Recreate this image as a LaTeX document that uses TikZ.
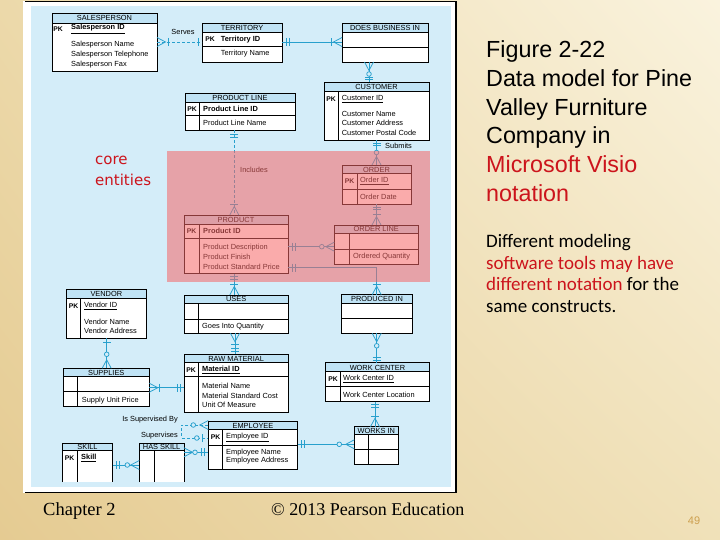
\documentclass[tikz,border=0pt]{standalone}
\usepackage{fontspec}
\setmainfont{Liberation Sans}
\newfontfamily\calib{Carlito}
\newfontfamily\timesf{Liberation Serif}
\newfontfamily\tahf{DejaVu Sans}
\usetikzlibrary{calc,shadings}
\definecolor{bgUL}{RGB}{236,217,170}
\definecolor{bgUR}{RGB}{250,243,222}
\definecolor{bgLL}{RGB}{229,203,146}
\definecolor{bgLR}{RGB}{240,225,185}
\definecolor{skyfill}{RGB}{212,237,249}
\definecolor{bandc}{RGB}{192,227,245}
\definecolor{connc}{RGB}{40,160,205}
\definecolor{ovc}{RGB}{246,102,102}
\definecolor{redt}{RGB}{204,20,28}
\definecolor{pagenum}{RGB}{205,160,80}
\tikzset{
 entbox/.style={rectangle, fill=white, inner sep=0pt, outer sep=0pt},
 entline/.style={draw=black, line width=0.7pt},
 ttl/.style={inner sep=0pt, font=\fontsize{7.4}{8}\selectfont},
 att/.style={inner sep=0pt, anchor=west, font=\fontsize{7.4}{8}\selectfont},
 keyatt/.style={inner sep=0pt, anchor=west, font=\bfseries\fontsize{7.4}{8}\selectfont},
 pkl/.style={inner sep=0pt, font=\bfseries\fontsize{6.8}{8}\selectfont},
 conn/.style={draw=connc, line width=0.75pt},
 dsh/.style={dash pattern=on 3pt off 2pt},
 lbl/.style={inner sep=0pt, font=\fontsize{7.4}{8}\selectfont},
 bigtxt/.style={inner sep=0pt, anchor=base west, font=\fontsize{23.3}{28}\selectfont},
 medtxt/.style={inner sep=0pt, anchor=base west, font=\calib\fontsize{19}{22}\selectfont},
 foot/.style={inner sep=0pt, anchor=base west, font=\timesf\fontsize{18.5}{22}\selectfont}
}
\newcommand{\ent}[7]{%
  \node[entbox, minimum width={(#4-#2)*1pt}, minimum height={(#5-#3)*1pt}] (#1) at ({(#2+#4)/2},{(#3+#5)/2}) {};
  \fill[bandc] (#2,#3) rectangle (#4,#6);
  \draw[entline] (#2,#3) rectangle (#4,#5);
  \draw[entline] (#2,#6) -- (#4,#6);
  \node[ttl] (#1-t) at ({(#2+#4)/2},{(#3+#6)/2+0.3}) {#7};}
\newcommand{\entopen}[7]{%
  \node[entbox, minimum width={(#4-#2)*1pt}, minimum height={(#5-#3)*1pt}] (#1) at ({(#2+#4)/2},{(#3+#5)/2}) {};
  \fill[bandc] (#2,#3) rectangle (#4,#6);
  \draw[entline] (#2,#5) -- (#2,#3) -- (#4,#3) -- (#4,#5);
  \draw[entline] (#2,#6) -- (#4,#6);
  \node[ttl] (#1-t) at ({(#2+#4)/2},{(#3+#6)/2+0.3}) {#7};}
\newcommand{\hl}[3]{\draw[entline] (#1,#3) -- (#2,#3);}
\newcommand{\vl}[3]{\draw[entline] (#1,#2) -- (#1,#3);}
\newcommand{\tipat}[3]{\begin{scope}[shift={(#1)},rotate=#2]#3\end{scope}}
\newcommand{\crw}{\draw[conn] (0,-4.5) -- (8.5,0) -- (0,4.5);}
\newcommand{\tbar}[1]{\draw[conn] (#1,-4) -- (#1,4);}
\newcommand{\crc}[1]{\draw[conn,fill=skyfill] (#1,0) circle (2.3pt);}
\begin{document}
\begin{tikzpicture}[x=1pt,y=-1pt]
\useasboundingbox (0,0) rectangle (720,540);
\shade[upper left=bgUL, upper right=bgUR, lower left=bgLL, lower right=bgLR] (0,0) rectangle (720,540);
% frame
\fill[white] (23,1.5) rectangle (456,492.5);
\draw[black, line width=1.2pt] (25,1.5) -- (456,1.5) -- (456,492.5) -- (25,492.5);
\fill[skyfill] (31,6) rectangle (451,487);

% ===== entities =====
\ent{sales}{52}{13}{157}{71}{23}{SALESPERSON}
\node[pkl] (sales-pk) at (58,29) {PK};
\node[keyatt] (sales-k) at (71,29) {\underline{Salesperson ID}};
\node[att] (sales-a1) at (71,45) {Salesperson Name};
\node[att] (sales-a2) at (71,55) {Salesperson Telephone};
\node[att] (sales-a3) at (71,65) {Salesperson Fax};

\ent{terr}{202}{23}{282}{62}{32}{TERRITORY}
\hl{202}{282}{46.7}
\node[pkl] (terr-pk) at (210,39.3) {PK};
\node[keyatt] (terr-k) at (220.7,39.3) {Territory ID};
\node[att] (terr-a1) at (220.7,54) {Territory Name};

\ent{dbi}{342}{23}{428}{62}{32}{DOES BUSINESS IN}
\hl{342}{428}{47}

\ent{cust}{324}{82}{429}{140}{91}{CUSTOMER}
\vl{338}{91}{140}
\node[pkl] (cust-pk) at (331,99) {PK};
\node[att] (cust-k) at (341.7,99) {\underline{Customer ID}};
\node[att] (cust-a1) at (341.7,113.7) {Customer Name};
\node[att] (cust-a2) at (341.7,123.3) {Customer Address};
\node[att] (cust-a3) at (341.7,132.7) {Customer Postal Code};

\ent{pline}{185}{93}{295}{130}{102}{PRODUCT LINE}
\hl{185}{295}{115}
\vl{199.3}{102}{130}
\node[pkl] (pline-pk) at (192,108.7) {PK};
\node[keyatt] (pline-k) at (203,108.7) {Product Line ID};
\node[att] (pline-a1) at (203,122.7) {Product Line Name};

\ent{ord}{342}{165}{411}{204.3}{173.5}{ORDER}
\hl{342}{411}{189.5}
\vl{357}{173.5}{204.3}
\node[pkl] (ord-pk) at (349.5,181) {PK};
\node[att] (ord-k) at (360,181) {\underline{Order ID}};
\node[att] (ord-a1) at (360,197.3) {Order Date};

\ent{prod}{184}{215}{288}{273.5}{224.5}{PRODUCT}
\hl{184}{288}{238.5}
\vl{199.3}{224.5}{273.5}
\node[pkl] (prod-pk) at (191.5,231) {PK};
\node[keyatt] (prod-k) at (203,231) {Product ID};
\node[att] (prod-a1) at (203,247.3) {Product Description};
\node[att] (prod-a2) at (203,256.7) {Product Finish};
\node[att] (prod-a3) at (203,266.7) {Product Standard Price};

\ent{oline}{334.3}{225}{418.3}{264}{233.3}{ORDER LINE}
\hl{334.3}{418.3}{249.3}
\vl{349.3}{233.3}{264}
\node[att] (oline-a1) at (353,256.7) {Ordered Quantity};

\ent{uses}{184}{295}{288.3}{333.3}{303.3}{USES}
\hl{184}{288.3}{319.3}
\vl{198.3}{303.3}{333.3}
\node[att] (uses-a1) at (202,326.7) {Goes Into Quantity};

\ent{pin}{341.7}{294.7}{412.3}{333.3}{303.3}{PRODUCED IN}
\hl{341.7}{412.3}{318.3}

\ent{vend}{66}{289.3}{146.7}{338.3}{298.3}{VENDOR}
\vl{80.7}{298.3}{338.3}
\node[pkl] (vend-pk) at (73.5,305.7) {PK};
\node[att] (vend-k) at (84,305.7) {\underline{Vendor ID}};
\node[att] (vend-a1) at (84,321.7) {Vendor Name};
\node[att] (vend-a2) at (84,330.7) {Vendor Address};

\ent{supp}{63.3}{368.3}{149.3}{406.7}{376.7}{SUPPLIES}
\hl{63.3}{149.3}{391.7}
\vl{77.7}{376.7}{406.7}
\node[att] (supp-a1) at (81.7,400.7) {Supply Unit Price};

\ent{raw}{184}{354}{288.3}{412.7}{362.7}{RAW MATERIAL}
\hl{184}{288.3}{376.7}
\vl{198}{362.7}{412.7}
\node[pkl] (raw-pk) at (191,370) {PK};
\node[keyatt] (raw-k) at (202,370) {\underline{Material ID}};
\node[att] (raw-a1) at (202,386) {Material Name};
\node[att] (raw-a2) at (202,396) {Material Standard Cost};
\node[att] (raw-a3) at (202,405.3) {Unit Of Measure};

\ent{wc}{325.7}{362.7}{429.3}{401.7}{371.7}{WORK CENTER}
\hl{325.7}{429.3}{386}
\vl{340}{371.7}{401.7}
\node[pkl] (wc-pk) at (333,379) {PK};
\node[att] (wc-k) at (343,379) {\underline{Work Center ID}};
\node[att] (wc-a1) at (343,395) {Work Center Location};

\entopen{skill}{62.3}{443.3}{112.7}{482}{450.5}{SKILL}
\vl{77.3}{450.5}{482}
\node[pkl] (skill-pk) at (69.5,458.3) {PK};
\node[keyatt] (skill-k) at (81,458.3) {\underline{Skill}};

\entopen{hask}{139.3}{443.3}{184}{482}{450.5}{HAS SKILL}
\vl{154.3}{450.5}{482}

\ent{emp}{208.3}{421}{297.7}{469.3}{429.3}{EMPLOYEE}
\hl{208.3}{297.7}{445}
\vl{222.7}{429.3}{469.3}
\node[pkl] (emp-pk) at (215.5,437.3) {PK};
\node[att] (emp-k) at (226,437.3) {\underline{Employee ID}};
\node[att] (emp-a1) at (226,452.3) {Employee Name};
\node[att] (emp-a2) at (226,461) {Employee Address};

\ent{wi}{354.3}{426.7}{398.3}{464}{434}{WORKS IN}
\hl{354.3}{398.3}{449}
\vl{368.3}{434}{464}

% ===== connectors =====
% Serves
\coordinate (c1a) at (sales.east |- 0,42);
\coordinate (c1b) at (terr.west |- 0,42);
\draw[conn,dsh] (c1a) -- (c1b);
\tipat{c1a}{0}{\crw\tbar{11}}
\tipat{c1b}{180}{\tbar{4}}
\node[lbl] (l-serves) at (183,32) {Serves};
% Territory - Does business in
\coordinate (c2a) at (terr.east |- 0,42);
\coordinate (c2b) at (dbi.west |- 0,42);
\draw[conn] (c2a) -- (c2b);
\tipat{c2a}{0}{\tbar{4}\tbar{7}}
\tipat{c2b}{180}{\crw\tbar{11}}
% DBI - Customer
\coordinate (c3a) at (dbi.south -| 369,0);
\coordinate (c3b) at (cust.north -| 369,0);
\draw[conn] (c3a) -- (c3b);
\tipat{c3a}{-90}{\crw\crc{12}}
\tipat{c3b}{90}{\tbar{2.5}\tbar{5}}
% Submits
\coordinate (c4a) at (cust.south -| 376.5,0);
\coordinate (c4b) at (ord.north -| 376.5,0);
\draw[conn] (c4a) -- (c4b);
\tipat{c4a}{-90}{\tbar{3}\tbar{5.5}}
\tipat{c4b}{90}{\crw\crc{12.5}}
\node[lbl,anchor=west] (l-submits) at (385,146) {Submits};
% Includes
\coordinate (c5a) at (pline.south -| 234.3,0);
\coordinate (c5b) at (prod.north -| 234.3,0);
\draw[conn,dsh] (c5a) -- (c5b);
\tipat{c5a}{-90}{\tbar{4}\tbar{7}}
\tipat{c5b}{90}{\crw\tbar{11}}
\node[lbl,anchor=west] (l-includes) at (240,170) {Includes};
% Order - Order line
\coordinate (c6a) at (ord.south -| 376.5,0);
\coordinate (c6b) at (oline.north -| 376.5,0);
\draw[conn] (c6a) -- (c6b);
\tipat{c6a}{-90}{\tbar{3}\tbar{5.5}}
\tipat{c6b}{90}{\crw\tbar{10.5}}
% Product - Order line
\coordinate (c7a) at (prod.east |- 0,246.7);
\coordinate (c7b) at (oline.west |- 0,246.7);
\draw[conn] (c7a) -- (c7b);
\tipat{c7a}{0}{\tbar{4}\tbar{7}}
\tipat{c7b}{180}{\crw\crc{12.5}}
% Product - Produced in
\coordinate (c8a) at (prod.east |- 0,267.7);
\coordinate (c8b) at (pin.north -| 376.7,0);
\draw[conn] (c8a) -| (c8b);
\tipat{c8a}{0}{\tbar{4}\tbar{7}}
\tipat{c8b}{90}{\crw\tbar{10.5}}
% Product - Uses
\coordinate (c9a) at (prod.south -| 234.3,0);
\coordinate (c9b) at (uses.north -| 234.3,0);
\draw[conn] (c9a) -- (c9b);
\tipat{c9a}{-90}{\tbar{3}\tbar{5.5}}
\tipat{c9b}{90}{\crw\tbar{10.5}}
% Uses - Raw material
\coordinate (c10a) at (uses.south -| 235,0);
\coordinate (c10b) at (raw.north -| 235,0);
\draw[conn] (c10a) -- (c10b);
\tipat{c10a}{-90}{\crw\tbar{11}}
\tipat{c10b}{90}{\tbar{3}\tbar{5.5}}
% Produced in - Work center
\coordinate (c11a) at (pin.south -| 376.7,0);
\coordinate (c11b) at (wc.north -| 376.7,0);
\draw[conn] (c11a) -- (c11b);
\tipat{c11a}{-90}{\crw\crc{12.5}}
\tipat{c11b}{90}{\tbar{2.5}\tbar{5}}
% Vendor - Supplies
\coordinate (c12a) at (vend.south -| 106.7,0);
\coordinate (c12b) at (supp.north -| 106.7,0);
\draw[conn] (c12a) -- (c12b);
\tipat{c12a}{-90}{\tbar{4}}
\tipat{c12b}{90}{\crw\crc{14}}
% Supplies - Raw material
\coordinate (c13a) at (supp.east |- 0,387.7);
\coordinate (c13b) at (raw.west |- 0,387.7);
\draw[conn] (c13a) -- (c13b);
\tipat{c13a}{0}{\crw\tbar{10}}
\tipat{c13b}{180}{\tbar{4}\tbar{6.5}}
% Supervises (recursive)
\coordinate (c14a) at (emp.west |- 0,425);
\coordinate (c14b) at (emp.west |- 0,438);
\coordinate (c14c) at (181.7,425);
\coordinate (c14d) at (181.7,438);
\draw[conn,dsh] (c14a) -- (c14c) -- (c14d) -- (c14b);
\tipat{c14a}{180}{\crw\crc{15}}
\tipat{c14b}{180}{\tbar{6}\crc{11.5}}
\node[lbl,anchor=east] (l-isby) at (178,419.3) {Is Supervised By};
\node[lbl,anchor=east] (l-sup) at (178,435.3) {Supervises};
% Has skill - Employee
\coordinate (c15a) at (hask.east |- 0,452.3);
\coordinate (c15b) at (emp.west |- 0,452.3);
\draw[conn] (c15a) -- (c15b);
\tipat{c15a}{0}{\crw\crc{11}}
\tipat{c15b}{180}{\tbar{4}\tbar{7}}
% Skill - Has skill
\coordinate (c16a) at (skill.east |- 0,465);
\coordinate (c16b) at (hask.west |- 0,465);
\draw[conn] (c16a) -- (c16b);
\tipat{c16a}{0}{\tbar{4}\tbar{7}}
\tipat{c16b}{180}{\crw\crc{12}}
% Employee - Works in
\coordinate (c17a) at (emp.east |- 0,444.3);
\coordinate (c17b) at (wi.west |- 0,444.3);
\draw[conn] (c17a) -- (c17b);
\tipat{c17a}{0}{\tbar{4}\tbar{7}}
\tipat{c17b}{180}{\crw\crc{15}}
% Work center - Works in
\coordinate (c18a) at (wc.south -| 375,0);
\coordinate (c18b) at (wi.north -| 375,0);
\draw[conn] (c18a) -- (c18b);
\tipat{c18a}{-90}{\tbar{3}\tbar{5.5}}
\tipat{c18b}{90}{\crw\tbar{10.5}}

% core entities overlay
\fill[ovc, opacity=0.55] (167,151) rectangle (430,282);
\node[inner sep=0pt, anchor=west, align=left, text=redt, font=\tahf\fontsize{15}{21}\selectfont] (core) at (95,170.5) {core\\entities};

% ===== right-hand text =====
\node[bigtxt] (r1) at (486,57.5) {Figure 2-22};
\node[bigtxt] (r2) at (486,86.3) {Data model for Pine};
\node[bigtxt] (r3) at (486,115.1) {Valley Furniture};
\node[bigtxt] (r4) at (486,143.9) {Company in};
\node[bigtxt,text=redt] (r5) at (486,172.7) {Microsoft Visio};
\node[bigtxt,text=redt] (r6) at (486,201.5) {notation};
\node[medtxt] (s1) at (486,247.3) {Different modeling};
\node[medtxt,text=redt] (s2) at (486,269) {software tools may have};
\node[medtxt] (s3) at (486,290.7) {\textcolor{redt}{different notation} for the};
\node[medtxt] (s4) at (486,312.4) {same constructs.};

% ===== footer =====
\node[foot] (ch) at (43,515.7) {Chapter 2};
\node[foot, font=\timesf\fontsize{18}{22}\selectfont] (copy) at (271,515.7) {\textcopyright{} 2013 Pearson Education};
\node[inner sep=0pt, text=pagenum, font=\fontsize{11}{13}\selectfont] (pg) at (694,521) {49};
\end{tikzpicture}
\end{document}
